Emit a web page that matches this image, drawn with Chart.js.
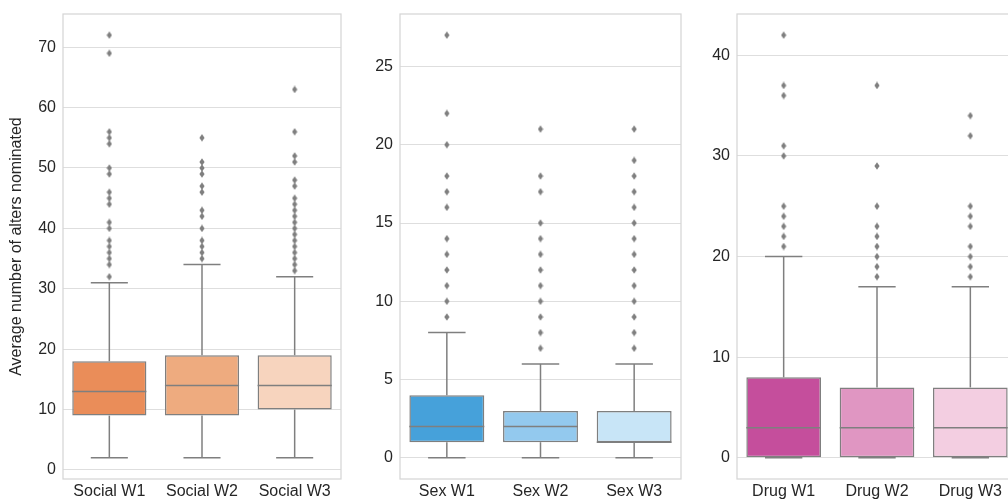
<!DOCTYPE html>
<html>
<head>
<meta charset="utf-8">
<script src="https://cdn.jsdelivr.net/npm/chart.js@4.4.1/dist/chart.umd.min.js"></script>
<style>
html, body { margin: 0; padding: 0; background: #fff; overflow: hidden; width: 1008px; height: 500px; }
canvas { position: absolute; top: 0; }
</style>
</head>
<body>
<canvas id="social" width="346" height="500" style="left:0px"></canvas>
<canvas id="sex" width="340" height="500" style="left:346px"></canvas>
<canvas id="drug" width="340" height="500" style="left:686px"></canvas>
<script>
// box stats
var socialLabels = ['Social W1', 'Social W2', 'Social W3'];
var socialLow = [2, 2, 2];
var socialQ1 = [9, 9, 10];
var socialMedian = [13, 14, 14];
var socialQ3 = [18, 19, 19];
var socialHigh = [31, 34, 32];
var socialOutliers = [
    [32, 34, 35, 36, 37, 38, 40, 41, 44, 45, 46, 49, 50, 54, 55, 56, 69, 72],
    [35, 36, 37, 38, 40, 42, 43, 46, 47, 49, 50, 51, 55],
    [33, 34, 35, 36, 37, 38, 39, 40, 41, 42, 43, 44, 45, 47, 48, 51, 52, 56, 63]
];
var socialTicks = [0, 10, 20, 30, 40, 50, 60, 70];

var sexLabels = ['Sex W1', 'Sex W2', 'Sex W3'];
var sexLow = [0, 0, 0];
var sexQ1 = [1, 1, 1];
var sexMedian = [2, 2, 1];
var sexQ3 = [4, 3, 3];
var sexHigh = [8, 6, 6];
var sexOutliers = [
    [9, 10, 11, 12, 13, 14, 16, 17, 18, 20, 22, 27],
    [7, 8, 9, 10, 11, 12, 13, 14, 15, 17, 18, 21],
    [7, 8, 9, 10, 11, 12, 13, 14, 15, 16, 17, 18, 19, 21]
];
var sexTicks = [0, 5, 10, 15, 20, 25];

var drugLabels = ['Drug W1', 'Drug W2', 'Drug W3'];
var drugLow = [0, 0, 0];
var drugQ1 = [0, 0, 0];
var drugMedian = [3, 3, 3];
var drugQ3 = [8, 7, 7];
var drugHigh = [20, 17, 17];
var drugOutliers = [
    [21, 22, 23, 24, 25, 30, 31, 36, 37, 42],
    [18, 19, 20, 21, 22, 23, 25, 29, 37],
    [18, 19, 20, 21, 23, 24, 25, 32, 34]
];
var drugTicks = [0, 10, 20, 30, 40];

var socialColors = ['#ea8d59', '#eeab7f', '#f7d4be'];
var sexColors = ['#46a1da', '#93c9ee', '#c8e5f7'];
var drugColors = ['#c54e9c', '#e096c2', '#f3cee1'];

var lineGray = '#7f7f7f';
var gridColor = '#dedede';
var frameColor = '#d6d6d6';
var textColor = '#262626';
var fontFamily = "'Liberation Sans', Arial, sans-serif";

// thin diamond marker like matplotlib 'd'
var diamond = document.createElement('canvas');
diamond.width = 6;
diamond.height = 8;
(function() {
    var c = diamond.getContext('2d');
    c.fillStyle = lineGray;
    c.beginPath();
    c.moveTo(3, 0.3);
    c.lineTo(5.6, 4);
    c.lineTo(3, 7.7);
    c.lineTo(0.4, 4);
    c.closePath();
    c.fill();
})();

function boxPlugin(low, median, high) {
    return {
        id: 'boxes',
        beforeDatasetsDraw: function(chart) {
            var a = chart.chartArea, ctx = chart.ctx;
            ctx.save();
            ctx.strokeStyle = frameColor;
            ctx.lineWidth = 1.25;
            ctx.strokeRect(a.left, a.top, a.right - a.left, a.bottom - a.top);
            ctx.restore();
        },
        afterDatasetsDraw: function(chart) {
            var ctx = chart.ctx, y = chart.scales.y;
            var meta = chart.getDatasetMeta(0);
            ctx.save();
            ctx.strokeStyle = lineGray;
            ctx.lineWidth = 1.5;
            function seg(x1, y1, x2, y2) {
                ctx.beginPath();
                ctx.moveTo(x1, y1);
                ctx.lineTo(x2, y2);
                ctx.stroke();
            }
            meta.data.forEach(function(bar, i) {
                var x = bar.x, w = bar.width;
                var top = Math.min(bar.y, bar.base), bot = Math.max(bar.y, bar.base);
                var lo = y.getPixelForValue(low[i]), hi = y.getPixelForValue(high[i]);
                var md = y.getPixelForValue(median[i]);
                seg(x, bot, x, lo);
                seg(x, top, x, hi);
                seg(x - w / 4, lo, x + w / 4, lo);
                seg(x - w / 4, hi, x + w / 4, hi);
                seg(x - w / 2, md, x + w / 2, md);
            });
            ctx.restore();
        }
    };
}

function makePanel(id, labels, low, q1, median, q3, high, outliers, ticks, colors, axisWidth, padRight, title) {
    var all = low.concat(high);
    outliers.forEach(function(o) { all = all.concat(o); });
    var lo = Math.min.apply(null, all), hi = Math.max.apply(null, all);
    var pad = (hi - lo) * 0.05;

    var points = [];
    outliers.forEach(function(o, i) {
        o.forEach(function(v) { points.push({ x: labels[i], y: v }); });
    });

    return new Chart(document.getElementById(id).getContext('2d'), {
        type: 'bar',
        data: {
            labels: labels,
            datasets: [{
                data: q1.map(function(v, i) { return [v, q3[i]]; }),
                backgroundColor: colors,
                borderColor: lineGray,
                borderWidth: 1.5,
                borderSkipped: false,
                barPercentage: 0.8,
                categoryPercentage: 1.0
            }, {
                type: 'scatter',
                data: points,
                pointStyle: diamond,
                pointRadius: 3
            }]
        },
        options: {
            responsive: false,
            animation: false,
            events: [],
            layout: { padding: { top: 14, right: padRight, left: 0, bottom: 0 } },
            plugins: { legend: { display: false }, tooltip: { enabled: false } },
            scales: {
                x: {
                    grid: { display: false, drawTicks: false },
                    border: { display: false },
                    ticks: { color: textColor, font: { family: fontFamily, size: 16 }, padding: 3 },
                    afterFit: function(s) {
                        s.height = 21;
                        s.paddingLeft = 0;
                        s.paddingRight = 0;
                    }
                },
                y: {
                    min: lo - pad,
                    max: hi + pad,
                    grid: { color: gridColor, lineWidth: 1, drawTicks: false },
                    border: { display: false },
                    ticks: { color: textColor, font: { family: fontFamily, size: 16 }, padding: 7, includeBounds: false },
                    afterBuildTicks: function(s) { s.ticks = ticks.map(function(v) { return { value: v }; }); },
                    afterFit: function(s) {
                        s.width = axisWidth;
                        s.paddingTop = 0;
                        s.paddingBottom = 0;
                    },
                    title: {
                        display: !!title,
                        text: title,
                        color: textColor,
                        font: { family: fontFamily, size: 16 },
                        padding: { top: 7, bottom: 0 }
                    }
                }
            }
        },
        plugins: [boxPlugin(low, median, high)]
    });
}

makePanel('social', socialLabels, socialLow, socialQ1, socialMedian, socialQ3, socialHigh, socialOutliers,
    socialTicks, socialColors, 63, 4, 'Average number of alters nominated');
makePanel('sex', sexLabels, sexLow, sexQ1, sexMedian, sexQ3, sexHigh, sexOutliers,
    sexTicks, sexColors, 54, 5, '');
makePanel('drug', drugLabels, drugLow, drugQ1, drugMedian, drugQ3, drugHigh, drugOutliers,
    drugTicks, drugColors, 51, 9, '');
</script>
</body>
</html>
